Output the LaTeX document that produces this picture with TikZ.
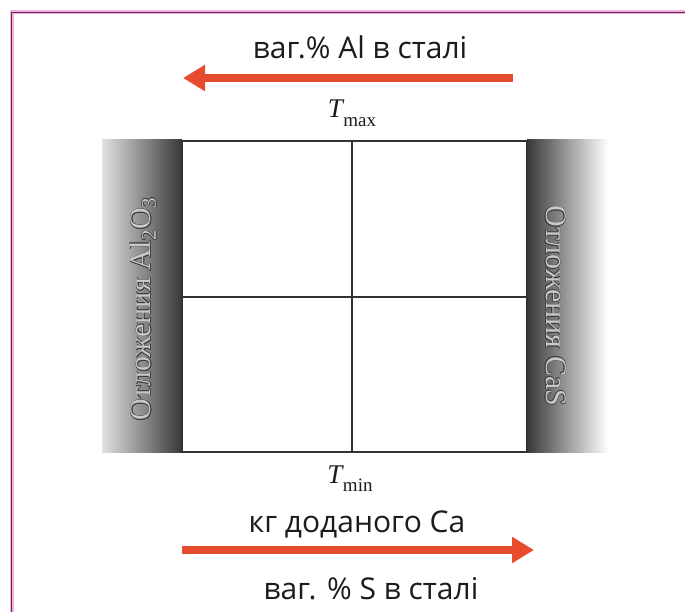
\documentclass[tikz,border=0pt]{standalone}
\usepackage{fontspec}
\setmainfont{Liberation Serif}
\newfontfamily\labelsans{Open Sans}
\usetikzlibrary{arrows.meta,calc}

\definecolor{framepurple}{RGB}{112,32,92}
\definecolor{framehalo}{RGB}{238,176,218}
\definecolor{gridgray}{RGB}{50,50,50}
\definecolor{arroworange}{RGB}{231,76,46}
\definecolor{bandlight}{RGB}{226,226,226}
\definecolor{banddark}{RGB}{56,56,56}
\definecolor{embossfill}{RGB}{200,200,200}
\definecolor{embossedge}{RGB}{62,62,62}
\definecolor{textdark}{RGB}{28,28,28}

% temperature label: italic T with an upright subscript
\newcommand\templabel[1]{{\itshape T}\kern0.5pt\raisebox{-0.3em}{\fontsize{19}{19}\selectfont #1}}

% grey lettering with a dark rim, set inside the shaded side bands
\newcommand\embossnode[4]{%
  \foreach \dx/\dy in {-0.55/0,0.55/0,0/-0.55,0/0.55,-0.4/-0.4,0.4/0.4,-0.4/0.4,0.4/-0.4}
    \node[bandtext, text=embossedge, rotate=#3] at ($(#2)+(\dx,\dy)$) {#4};
  \node[bandtext, text=embossfill, rotate=#3] (#1) at (#2) {#4};
}

\tikzset{
  sanslabel/.style={font=\labelsans\fontsize{30}{34}\selectfont, text=textdark, anchor=base, inner sep=0pt},
  templabelstyle/.style={font=\fontsize{27}{30}\selectfont, text=textdark, anchor=base, inner sep=0pt},
  bandtext/.style={font=\fontsize{30}{32}\selectfont, inner sep=0pt},
  gridline/.style={draw=gridgray, line width=2pt},
  bigarrow/.style={draw=arroworange, line width=8.5pt,
    -{Triangle[length=22pt,width=25pt]}},
}

\begin{document}
\begin{tikzpicture}[x=1pt,y=-1pt]
  \useasboundingbox (0,0) rectangle (685,612);
  \fill[white] (0,0) rectangle (685,612);

  % outer frame, visible along the top and left edges
  \draw[framehalo, line width=4pt] (11.5,612) -- (11.5,12.5) -- (685,12.5);
  \draw[framepurple, line width=1.6pt] (11.5,612) -- (11.5,12.5) -- (685,12.5);

  % shaded side bands
  \shade[left color=bandlight, right color=banddark] (102,140) rectangle (182,452);
  \shade[left color=banddark, right color=white] (527,140) rectangle (608,452);

  % the four-cell grid
  \fill[white] (182,141) rectangle (527,452);
  \draw[gridline] (182,141) rectangle (527,452);
  \draw[gridline] (352,141) -- (352,452);
  \draw[gridline] (182,297) -- (527,297);

  % band captions
  \coordinate (leftcap) at (143,309);
  \coordinate (rightcap) at (556,306);
  \embossnode{al2o3}{leftcap}{90}{Отложения Al\textsubscript{2}O\textsubscript{3}}
  \embossnode{cas}{rightcap}{-90}{Отложения CaS}

  % top: aluminium arrow
  \node[sanslabel] (altext) at (360,59) {ваг.\% Al в сталі};
  \coordinate (altail) at (513,78);
  \coordinate (altip) at (183,78);
  \draw[bigarrow] (altail) -- (altip);
  \node[templabelstyle] (tmax) at (352,118) {\templabel{max}};

  % bottom: calcium / sulphur arrow
  \node[templabelstyle] (tmin) at (350,483) {\templabel{min}};
  \node[sanslabel] (catext) at (357,532) {кг доданого Ca};
  \coordinate (catail) at (182,550);
  \coordinate (catip) at (534,550);
  \draw[bigarrow] (catail) -- (catip);
  \node[sanslabel] (stext) at (371,599) {ваг. \% S в сталі};
\end{tikzpicture}
\end{document}
